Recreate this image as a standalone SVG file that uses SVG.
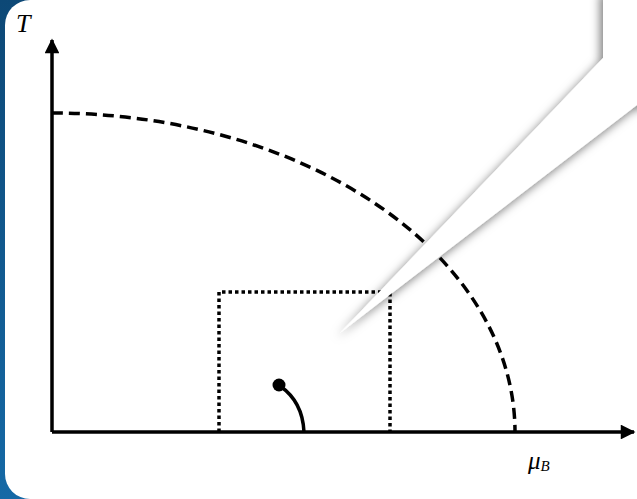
<svg xmlns="http://www.w3.org/2000/svg" width="637" height="499" viewBox="0 0 637 499">
<defs>
<linearGradient id="blue" x1="0" y1="0" x2="0" y2="1">
<stop offset="0" stop-color="#0d4876"/>
<stop offset="1" stop-color="#1569a6"/>
</linearGradient>
<filter id="shadow" x="-20%" y="-20%" width="140%" height="140%">
<feDropShadow dx="-3" dy="4" stdDeviation="5" flood-color="#000" flood-opacity="0.5"/>
</filter>
<marker id="arrow" viewBox="0 0 10 10" refX="9" refY="5" markerWidth="5" markerHeight="4.2" markerUnits="strokeWidth" orient="auto">
<path d="M0,0 L10,5 L0,10 z" fill="#000"/>
</marker>
</defs>
<style>
.axis{stroke:#000;stroke-width:3.5;fill:none}
.dash{stroke:#000;stroke-width:3.5;fill:none;stroke-dasharray:11 6}
.dot{stroke:#000;stroke-width:3.5;fill:none;stroke-dasharray:3.5 3}
.lbl{font-family:"Liberation Serif","DejaVu Serif",serif;font-style:italic;fill:#000}
</style>
<rect x="0" y="0" width="637" height="499" fill="url(#blue)"/>
<rect x="5" y="0" width="680" height="499" rx="25" ry="25" fill="#fff"/>
<rect x="40" y="0" width="597" height="499" fill="#fff"/>
<g id="connectors">
<path class="dash" d="M52,113 A463,319 0 0 1 515,432"/>
<path class="dot" d="M219,432 L219,292 L390,292 L390,432"/>
<path class="axis" d="M52,432 L52,40" marker-end="url(#arrow)"/>
<path class="axis" d="M52,432 L634,432" marker-end="url(#arrow)"/>
<path class="axis" stroke-width="3" d="M280,386 C293,395 303,410 304,432"/>
</g>
<g id="critical-point">
<circle cx="279" cy="385" r="6.5" fill="#000"/>
</g>
<g id="label-T">
<text class="lbl" x="16" y="32" font-size="26">T</text>
</g>
<g id="label-muB">
<text class="lbl" x="528" y="469" font-size="25">μ<tspan font-size="15" dy="2">B</tspan></text>
</g>
<g id="callout">
<polygon points="603,-10 603,58 340,333 637,105 647,105 647,-10" fill="#fff" filter="url(#shadow)"/>
</g>
</svg>
